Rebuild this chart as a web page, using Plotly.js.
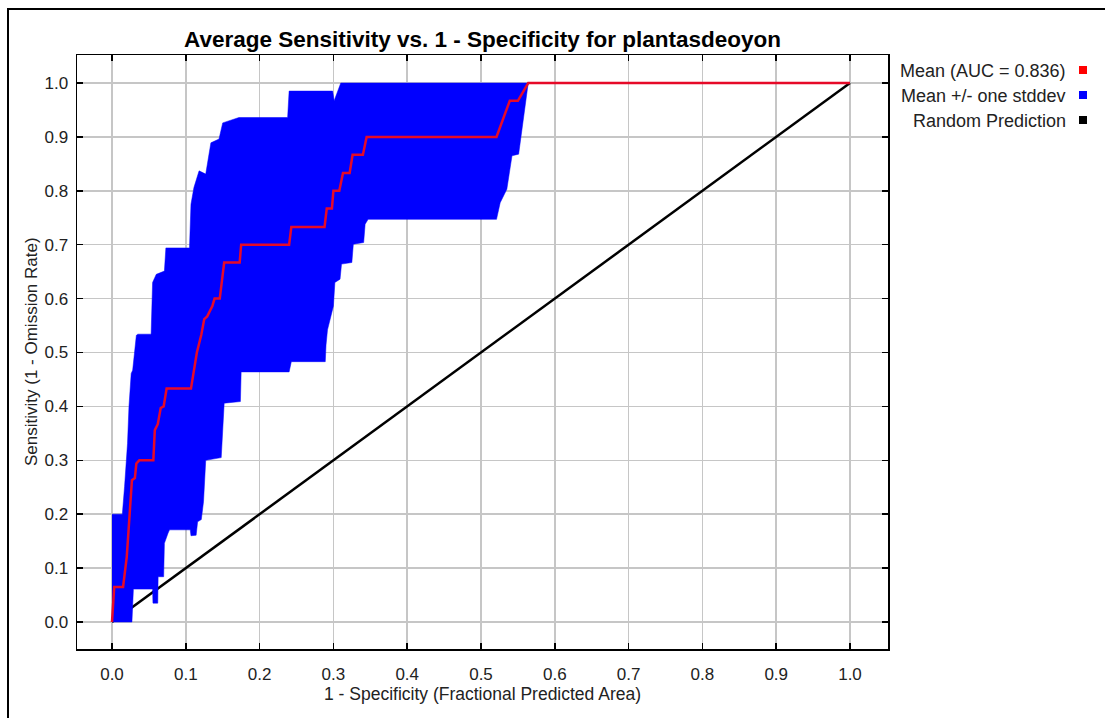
<!DOCTYPE html>
<html>
<head>
<meta charset="utf-8">
<script src="https://cdn.plot.ly/plotly-3.0.1.min.js"></script>
<style>html,body{margin:0;padding:0;background:#fff;}#chart{width:1105px;height:718px;}</style>
</head>
<body>
<div id="chart"></div>
<script>
// ---- data ----
const meanX = [0, 0.003, 0.015, 0.020, 0.027, 0.031, 0.033, 0.037, 0.056, 0.058, 0.062, 0.066, 0.070, 0.074, 0.107, 0.111, 0.115, 0.121, 0.125, 0.129, 0.136, 0.139, 0.146, 0.152, 0.173, 0.175, 0.240, 0.243, 0.288, 0.291, 0.298, 0.300, 0.308, 0.313, 0.322, 0.326, 0.340, 0.345, 0.521, 0.539, 0.550, 0.564, 1.0];
const meanY = [0, 0.065, 0.065, 0.121, 0.263, 0.267, 0.294, 0.300, 0.300, 0.356, 0.367, 0.397, 0.400, 0.433, 0.433, 0.467, 0.500, 0.533, 0.562, 0.567, 0.586, 0.600, 0.600, 0.667, 0.667, 0.700, 0.700, 0.733, 0.733, 0.767, 0.767, 0.800, 0.800, 0.833, 0.833, 0.867, 0.867, 0.900, 0.900, 0.967, 0.967, 1.0, 1.0];

const upperX = [0, 0.014, 0.017, 0.019, 0.021, 0.023, 0.026, 0.028, 0.033, 0.035, 0.053, 0.055, 0.060, 0.071, 0.073, 0.105, 0.107, 0.111, 0.118, 0.127, 0.134, 0.145, 0.150, 0.172, 0.238, 0.240, 0.299, 0.301, 0.310, 0.564];
const upperY = [0.200, 0.200, 0.251, 0.294, 0.331, 0.400, 0.461, 0.467, 0.532, 0.534, 0.534, 0.630, 0.645, 0.651, 0.694, 0.694, 0.775, 0.806, 0.837, 0.831, 0.889, 0.896, 0.926, 0.936, 0.936, 0.985, 0.985, 0.967, 1.000, 1.000];

const lowerX = [0, 0.027, 0.029, 0.055, 0.0555, 0.062, 0.0625, 0.070, 0.071, 0.076, 0.078, 0.106, 0.107, 0.114, 0.116, 0.121, 0.124, 0.127, 0.148, 0.150, 0.152, 0.174, 0.175, 0.240, 0.243, 0.289, 0.290, 0.292, 0.300, 0.302, 0.309, 0.311, 0.325, 0.327, 0.341, 0.343, 0.347, 0.521, 0.526, 0.535, 0.542, 0.551, 0.557, 0.564];
const lowerY = [0, 0, 0.061, 0.061, 0.035, 0.035, 0.084, 0.084, 0.146, 0.165, 0.171, 0.171, 0.160, 0.161, 0.186, 0.190, 0.223, 0.300, 0.305, 0.353, 0.406, 0.409, 0.464, 0.464, 0.483, 0.483, 0.514, 0.542, 0.586, 0.630, 0.636, 0.664, 0.667, 0.701, 0.704, 0.738, 0.747, 0.747, 0.778, 0.803, 0.865, 0.868, 0.926, 1.000];

const randomX = [0, 1];
const randomY = [0, 1];

const tickVals = [0, 0.1, 0.2, 0.3, 0.4, 0.5, 0.6, 0.7, 0.8, 0.9, 1.0];
const tickText = ["0.0", "0.1", "0.2", "0.3", "0.4", "0.5", "0.6", "0.7", "0.8", "0.9", "1.0"];

const seriesNames = ["Mean (AUC = 0.836)", "Mean +/- one stddev", "Random Prediction"];
const seriesColors = ["#ff0000", "#0000ff", "#000000"];

// ---- geometry (pixels) ----
const W = 1105, H = 718;
const L = 77, R = 888, T = 55, B = 649;
const fx = p => (p - L) / (R - L);
const fy = p => (B - p) / (B - T);
const FONT = "Liberation Sans, Arial, Helvetica, sans-serif";

const bandX = upperX.concat(lowerX.slice().reverse());
const bandY = upperY.concat(lowerY.slice().reverse());

const traces = [
  {x: randomX, y: randomY, mode: "lines", line: {color: "#000000", width: 2.5}, name: seriesNames[2], showlegend: false, hoverinfo: "skip"},
  {x: bandX, y: bandY, mode: "lines", fill: "toself", fillcolor: "#0000ff", line: {color: "#0000ff", width: 0.5}, name: seriesNames[1], showlegend: false, hoverinfo: "skip"},
  {x: meanX, y: meanY, mode: "lines", line: {color: "rgb(230,10,40)", width: 2.5}, name: seriesNames[0], showlegend: false, hoverinfo: "skip"}
];

const axisCommon = {
  tickmode: "array", tickvals: tickVals, ticktext: tickText,
  ticks: "inside", ticklen: 6, tickwidth: 1.5, tickcolor: "#000",
  showline: true, linecolor: "#000", linewidth: 1.5, mirror: "ticks",
  showgrid: true, gridcolor: "#c6c6c6", gridwidth: 1.5,
  zeroline: false, automargin: false,
  tickfont: {family: FONT, size: 17, color: "#222"}
};

const annotations = [];
const shapes = [];
const rowY = [71, 96, 121];
seriesNames.forEach((n, i) => {
  annotations.push({
    text: n, xref: "paper", yref: "paper", x: fx(1068), y: fy(rowY[i]),
    xanchor: "right", yanchor: "middle", showarrow: false,
    font: {family: FONT, size: 18, color: "#222"}
  });
  shapes.push({
    type: "rect", xref: "paper", yref: "paper",
    x0: fx(1079), x1: fx(1087), y0: fy(rowY[i] - 1 + 4), y1: fy(rowY[i] - 1 - 4),
    fillcolor: seriesColors[i], line: {width: 0}
  });
});
annotations.push({
  text: "Sensitivity (1 - Omission Rate)", xref: "paper", yref: "paper",
  x: fx(31), y: 0.5, xanchor: "center", yanchor: "middle", textangle: -90,
  showarrow: false, font: {family: FONT, size: 17, color: "#222"}
});
// outer frame
shapes.push({type: "rect", xref: "paper", yref: "paper",
  x0: fx(8), x1: fx(1115), y0: fy(730), y1: fy(9),
  line: {color: "#000", width: 2}, fillcolor: "rgba(0,0,0,0)", layer: "below"});

const layout = {
  width: W, height: H,
  margin: {l: L, r: W - R, t: T, b: H - B, pad: 0},
  paper_bgcolor: "#fff", plot_bgcolor: "#fff",
  title: {text: "<b>Average Sensitivity vs. 1 - Specificity for plantasdeoyon</b>",
    font: {family: FONT, size: 22.5, color: "#000"},
    x: 0.5, xref: "paper", xanchor: "center", y: 1 - 39 / H, yref: "container", yanchor: "middle"},
  xaxis: Object.assign({}, axisCommon, {
    range: [(L - 112) / 738, (R - 112) / 738],
    ticklabelstandoff: 9,
    title: {text: "1 - Specificity (Fractional Predicted Area)", font: {family: FONT, size: 17.5, color: "#222"}, standoff: 5}
  }),
  yaxis: Object.assign({}, axisCommon, {
    range: [-(B - 622) / 539, (622 - T) / 539],
    ticklabelstandoff: 4
  }),
  annotations: annotations,
  shapes: shapes,
  showlegend: false
};

Plotly.newPlot("chart", traces, layout, {staticPlot: true, displayModeBar: false});
</script>
</body>
</html>
